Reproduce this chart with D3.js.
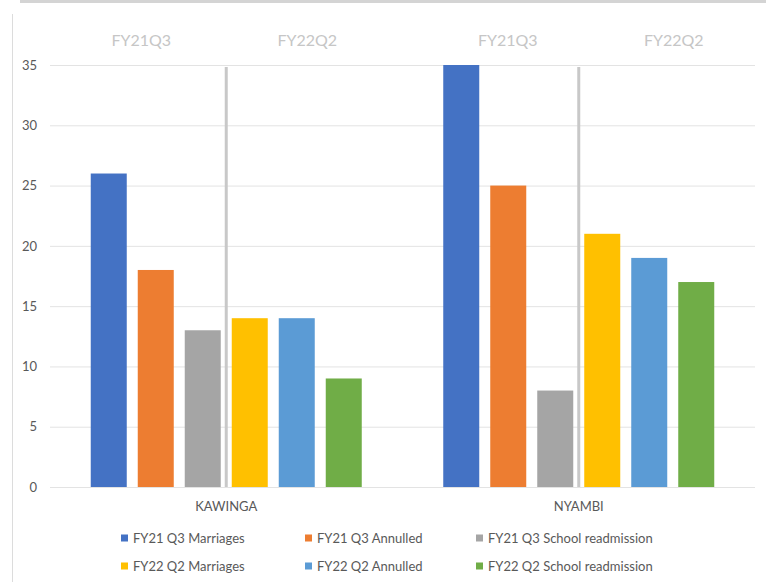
<!DOCTYPE html>
<html>
<head>
<meta charset="utf-8">
<script src="https://cdn.jsdelivr.net/npm/d3@7"></script>
<style>
  html, body { margin: 0; padding: 0; background: #fff; }
  svg { display: block; }
  text { font-family: Lato, "Open Sans", "Liberation Sans", sans-serif; }
</style>
</head>
<body>
<svg id="chart" width="766" height="582"></svg>
<script>
// Districts on the category axis
const districts = ["KAWINGA", "NYAMBI"];
// Series names in drawing order
const seriesNames = [
  "FY21 Q3 Marriages", "FY21 Q3 Annulled", "FY21 Q3 School readmission",
  "FY22 Q2 Marriages", "FY22 Q2 Annulled", "FY22 Q2 School readmission"
];
// Counts per district, one entry per series
const kawingaValues = [26, 18, 13, 14, 14, 9];
const nyambiValues = [35, 25, 8, 21, 19, 17];
// Period headers shown above each half of a group
const periodLabels = ["FY21Q3", "FY22Q2"];
const yTicks = [0, 5, 10, 15, 20, 25, 30, 35];

const colors = ["#4472C4", "#ED7D31", "#A5A5A5", "#FFC000", "#5B9BD5", "#70AD47"];

const rows = districts.map((d, i) => ({
  district: d,
  values: (i === 0 ? kawingaValues : nyambiValues)
}));

const svg = d3.select("#chart");

// frame lines around the chart area
svg.append("rect").attr("x", 20).attr("y", 0).attr("width", 746).attr("height", 3).attr("fill", "#d4d4d4");
svg.append("line").attr("x1", 12.5).attr("x2", 12.5).attr("y1", 14).attr("y2", 582)
  .attr("stroke", "#dcdcdc").attr("stroke-width", 1);

const plot = { left: 50, right: 755, top: 65, bottom: 487 };

const y = d3.scaleLinear().domain([0, 35]).range([plot.bottom, plot.top]);
const x0 = d3.scaleBand().domain(districts).range([plot.left, plot.right]).padding(0);
const x1 = d3.scaleBand().domain(seriesNames).range([0, x0.bandwidth()])
  .paddingInner(0.234).paddingOuter(0.867);

// gridlines
const yAxis = d3.axisLeft(y).tickValues(yTicks).tickSize(-(plot.right - plot.left)).tickPadding(13);
const gy = svg.append("g").attr("transform", `translate(${plot.left},0)`).call(yAxis);
gy.select(".domain").remove();
gy.selectAll(".tick line").attr("stroke", "#e3e3e3").attr("stroke-width", 1);
gy.selectAll(".tick text").attr("fill", "#595959").attr("font-size", 13);

// bars
const groups = svg.append("g").selectAll("g").data(rows).join("g")
  .attr("transform", d => `translate(${x0(d.district)},0)`);

groups.selectAll("rect").data(d => d.values.map((v, i) => ({ name: seriesNames[i], value: v, i })))
  .join("rect")
  .attr("x", d => x1(d.name))
  .attr("width", x1.bandwidth())
  .attr("y", d => y(d.value))
  .attr("height", d => y(0) - y(d.value))
  .attr("fill", d => colors[d.i]);

// separators between the two periods inside each group
groups.append("line")
  .attr("x1", () => (x1(seriesNames[2]) + x1.bandwidth() + x1(seriesNames[3])) / 2)
  .attr("x2", () => (x1(seriesNames[2]) + x1.bandwidth() + x1(seriesNames[3])) / 2)
  .attr("y1", y(35) + 2).attr("y2", y(0))
  .attr("stroke", "#c8c8c8").attr("stroke-width", 3);

// period headers
const headerOffsets = [[-85, 81], [-71, 95]];
rows.forEach((r, gi) => {
  const cx = x0(r.district) + x0.bandwidth() / 2;
  periodLabels.forEach((p, pi) => {
    svg.append("text")
      .attr("x", cx + headerOffsets[gi][pi]).attr("y", 46)
      .attr("text-anchor", "middle")
      .attr("fill", "#c6c6c6").attr("font-size", 16)
      .text(p);
  });
});

// category labels
svg.append("g").selectAll("text").data(districts).join("text")
  .attr("x", d => x0(d) + x0.bandwidth() / 2)
  .attr("y", 511)
  .attr("text-anchor", "middle")
  .attr("fill", "#595959").attr("font-size", 13)
  .text(d => d);

// legend
const legendCols = [121, 305, 476];
const legendRows = [538, 566];
const legend = svg.append("g").selectAll("g").data(seriesNames).join("g")
  .attr("transform", (d, i) => `translate(${legendCols[i % 3]},${legendRows[Math.floor(i / 3)]})`);
legend.append("rect").attr("x", 0).attr("y", -3.5).attr("width", 7).attr("height", 7)
  .attr("fill", (d, i) => colors[i]);
legend.append("text").attr("x", 12).attr("y", 0).attr("dy", "0.35em")
  .attr("fill", "#595959").attr("font-size", 13)
  .text(d => d);
</script>
</body>
</html>
